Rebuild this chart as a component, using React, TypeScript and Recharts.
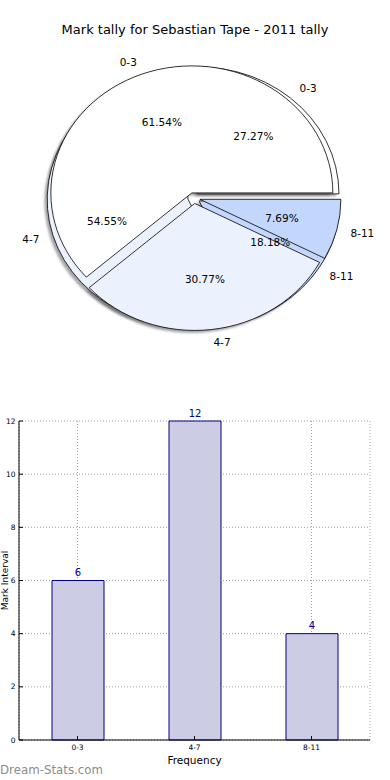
import React from "react";
import {
  PieChart,
  Pie,
  BarChart,
  Bar,
  XAxis,
  YAxis,
  CartesianGrid,
  LabelList,
  Label,
} from "recharts";

const bins = ["0-3", "4-7", "8-11"];
const tallyCounts = [6, 12, 4];
const frontCounts = [8, 4, 1];
const yTicks = [0, 2, 4, 6, 8, 10, 12];

const sliceColors = ["#ffffff", "#ebf1fd", "#c3d7fd"];
const FONT = '"DejaVu Sans", sans-serif';
const Y_SCALE = 127 / 141; // the pie is squashed vertically
const EXPLODE = 0.043;
const RAD = Math.PI / 180;

const backPie = bins.map((bin, i) => ({ bin, value: tallyCounts[i] }));
const frontPie = bins.map((bin, i) => ({ bin, value: frontCounts[i] }));
const barData = bins.map((bin, i) => ({ bin, count: tallyCounts[i] }));

function wedgeGeom(p: any) {
  const rx = p.outerRadius;
  const ry = rx * Y_SCALE;
  const mid = ((p.startAngle + p.endAngle) / 2) * RAD;
  const ox = p.cx + EXPLODE * rx * Math.cos(mid);
  const oy = p.cy - EXPLODE * ry * Math.sin(mid);
  return { rx, ry, mid, ox, oy };
}

function wedgePath(p: any, sx = 0, sy = 0) {
  const { rx, ry, ox, oy } = wedgeGeom(p);
  const x0 = ox + sx;
  const y0 = oy + sy;
  const a1 = p.startAngle * RAD;
  const a2 = p.endAngle * RAD;
  const large = p.endAngle - p.startAngle > 180 ? 1 : 0;
  return `M${x0},${y0} L${x0 + rx * Math.cos(a1)},${y0 - ry * Math.sin(a1)} A${rx},${ry} 0 ${large} 0 ${
    x0 + rx * Math.cos(a2)
  },${y0 - ry * Math.sin(a2)} Z`;
}

const shadowLayer = (p: any) => (
  <path d={wedgePath(p, -2.8, 2.5)} fill="#4d4d4d" fillOpacity={0.5} stroke="none" filter="url(#soft)" />
);

const wedgeLayer = (p: any) => (
  <path
    d={wedgePath(p)}
    fill={sliceColors[p.index]}
    stroke="#000"
    strokeWidth={0.8}
    strokeLinejoin="round"
  />
);

const textLayer = (p: any) => {
  const { rx, ry, mid, ox, oy } = wedgeGeom(p);
  const lx = ox + 1.1 * rx * Math.cos(mid);
  const ly = oy - 1.1 * ry * Math.sin(mid);
  const px = ox + 0.6 * rx * Math.cos(mid);
  const py = oy - 0.6 * ry * Math.sin(mid);
  return (
    <g fontFamily={FONT} fontSize={10.5} fill="#000">
      <text x={px} y={py} textAnchor="middle" dominantBaseline="central">
        {(p.percent * 100).toFixed(2)}%
      </text>
      <text x={lx} y={ly} textAnchor={lx > p.cx ? "start" : "end"} dominantBaseline="central">
        {p.name}
      </text>
    </g>
  );
};

function layer(data: any[], key: string, render: (p: any) => any) {
  return (
    <Pie
      key={key}
      data={data}
      dataKey="value"
      nameKey="bin"
      cx={194}
      cy={198}
      outerRadius={141}
      startAngle={0}
      endAngle={360}
      fill="none"
      stroke="none"
      label={render}
      labelLine={false}
      isAnimationActive={false}
    />
  );
}

export default function App() {
  return (
    <div style={{ position: "absolute", left: 0, top: 0, width: 390, height: 780, background: "#fff" }}>
      <div
        style={{
          position: "absolute",
          top: 22,
          left: 0,
          width: 390,
          textAlign: "center",
          fontFamily: FONT,
          fontSize: 13,
          lineHeight: "16px",
          color: "#000",
        }}
      >
        Mark tally for Sebastian Tape - 2011 tally
      </div>
      <div style={{ position: "absolute", top: 0, left: 0 }}>
        <PieChart width={390} height={400} margin={{ top: 0, right: 0, bottom: 0, left: 0 }}>
          <defs>
            <filter id="soft" x="-10%" y="-10%" width="120%" height="120%">
              <feGaussianBlur stdDeviation="0.8" />
            </filter>
          </defs>
          {layer(backPie, "s1", shadowLayer)}
          {layer(frontPie, "s2", shadowLayer)}
          {layer(backPie, "w1", wedgeLayer)}
          {layer(frontPie, "w2", wedgeLayer)}
          {layer(backPie, "t1", textLayer)}
          {layer(frontPie, "t2", textLayer)}
        </PieChart>
      </div>
      <div style={{ position: "absolute", top: 400, left: 0 }}>
        <BarChart width={390} height={380} data={barData} margin={{ top: 21, right: 20, bottom: 0, left: 0 }}>
          <CartesianGrid stroke="#a0a0a0" strokeDasharray="1 2" />
          <XAxis
            dataKey="bin"
            height={40}
            interval={0}
            axisLine={{ stroke: "#000" }}
            tickLine={{ stroke: "#000" }}
            tickSize={-4}
            tickMargin={9}
            tick={{ fontSize: 7.5, fill: "#000", fontFamily: FONT }}
          >
            <Label
              content={({ viewBox }: any) => (
                <text
                  x={viewBox.x + viewBox.width / 2}
                  y={viewBox.y + 20}
                  textAnchor="middle"
                  dominantBaseline="central"
                  fontFamily={FONT}
                  fontSize={10.5}
                  fill="#000"
                >
                  Frequency
                </text>
              )}
            />
          </XAxis>
          <XAxis
            xAxisId="top"
            dataKey="bin"
            orientation="top"
            height={0}
            interval={0}
            tick={false}
            axisLine={{ stroke: "#000" }}
            tickLine={{ stroke: "#000" }}
            tickSize={-4}
          />
          <YAxis
            domain={[0, 12]}
            ticks={yTicks}
            width={19}
            interval={0}
            axisLine={{ stroke: "#000" }}
            tickLine={{ stroke: "#000" }}
            tickSize={-4}
            tickMargin={7.5}
            tick={{ fontSize: 7.5, fill: "#000", fontFamily: FONT }}
          >
            <Label
              content={({ viewBox }: any) => {
                const cy = viewBox.y + viewBox.height / 2;
                return (
                  <text
                    x={8}
                    y={cy}
                    transform={`rotate(-90 8 ${cy})`}
                    textAnchor="middle"
                    fontFamily={FONT}
                    fontSize={9}
                    fill="#000"
                  >
                    Mark Interval
                  </text>
                );
              }}
            />
          </YAxis>
          <YAxis
            yAxisId="right"
            orientation="right"
            domain={[0, 12]}
            ticks={yTicks}
            width={0}
            interval={0}
            tick={false}
            axisLine={{ stroke: "#000" }}
            tickLine={{ stroke: "#000" }}
            tickSize={-4}
          />
          <Bar dataKey="count" barSize={52} fill="#ccccE5" stroke="#000080" strokeWidth={1} isAnimationActive={false}>
            <LabelList dataKey="count" position="top" offset={4.5} fill="#000080" fontSize={10} fontFamily={FONT} />
          </Bar>
        </BarChart>
      </div>
      <div
        style={{
          position: "absolute",
          top: 763,
          left: 0,
          fontFamily: FONT,
          fontSize: 11.8,
          lineHeight: "14px",
          color: "#8c8c8c",
        }}
      >
        Dream-Stats.com
      </div>
    </div>
  );
}
